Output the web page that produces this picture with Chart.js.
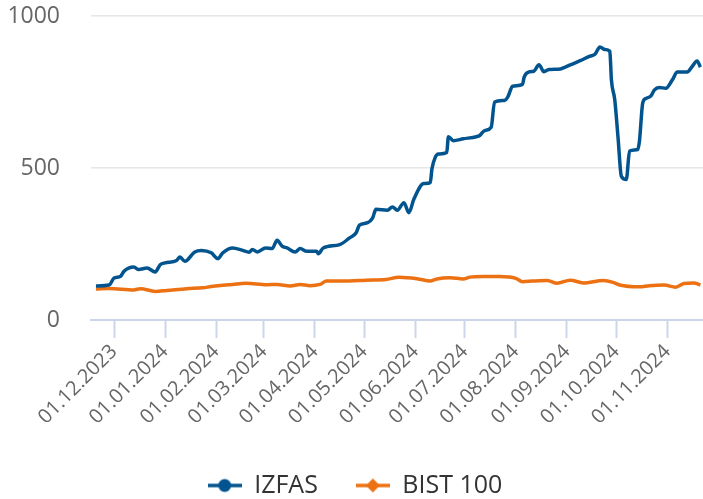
<!DOCTYPE html>
<html>
<head>
<meta charset="utf-8">
<script src="https://cdn.jsdelivr.net/npm/chart.js@4.4.0/dist/chart.umd.min.js"></script>
<style>
body { margin: 0; background: #fff; }
</style>
</head>
<body>
<canvas id="chart" width="703" height="499"></canvas>
<script>
var izfasDates = ['2023-11-20','2023-11-28','2023-12-01','2023-12-05','2023-12-07','2023-12-13','2023-12-16','2023-12-21',
    '2023-12-26','2023-12-29','2024-01-01','2024-01-08','2024-01-10','2024-01-13','2024-01-19','2024-01-23','2024-01-29',
    '2024-02-02','2024-02-05','2024-02-11','2024-02-17','2024-02-21','2024-02-23','2024-02-26','2024-03-02','2024-03-06',
    '2024-03-09','2024-03-12','2024-03-15','2024-03-20','2024-03-23','2024-03-27','2024-04-02','2024-04-03','2024-04-06',
    '2024-04-16','2024-04-22','2024-04-26','2024-04-28','2024-05-03','2024-05-06','2024-05-08','2024-05-15','2024-05-18',
    '2024-05-21','2024-05-25','2024-05-28','2024-05-31','2024-06-06','2024-06-10','2024-06-11','2024-06-13','2024-06-15',
    '2024-06-20','2024-06-21','2024-06-24','2024-06-30','2024-07-08','2024-07-10','2024-07-13','2024-07-17','2024-07-19',
    '2024-07-25','2024-07-27','2024-07-30','2024-08-05','2024-08-06','2024-08-09','2024-08-12','2024-08-15','2024-08-18',
    '2024-08-21','2024-08-28','2024-08-31','2024-09-03','2024-09-09','2024-09-15','2024-09-18','2024-09-21','2024-09-24',
    '2024-09-27','2024-09-28','2024-09-30','2024-10-02','2024-10-04','2024-10-07','2024-10-09','2024-10-14','2024-10-15',
    '2024-10-17','2024-10-19','2024-10-22','2024-10-24','2024-10-27','2024-10-31','2024-11-04','2024-11-07','2024-11-13',
    '2024-11-16','2024-11-19','2024-11-21'];
var izfasValues = [112,115,138,144,160,174,166,171,
    158,182,188,196,207,193,224,229,221,
    202,221,237,229,223,232,224,237,235,
    262,243,237,224,235,226,226,218,237,
    248,270,287,312,320,336,364,361,372,
    361,386,353,397,449,452,497,535,546,
    551,603,590,596,603,607,623,634,717,
    722,733,769,775,799,816,819,840,817,
    824,826,832,839,853,868,874,898,890,
    884,788,725,600,473,462,556,561,589,
    714,729,737,756,765,762,790,816,816,
    834,852,832];

var bistDates = ['2023-11-20','2023-11-28','2023-12-13','2023-12-17','2023-12-26','2024-01-02','2024-01-14','2024-01-24',
    '2024-01-29','2024-02-05','2024-02-11','2024-02-19','2024-03-03','2024-03-09','2024-03-17','2024-03-23','2024-03-29',
    '2024-04-04','2024-04-08','2024-04-22','2024-05-02','2024-05-14','2024-05-22','2024-06-02','2024-06-10','2024-06-14',
    '2024-06-22','2024-06-30','2024-07-04','2024-07-12','2024-07-22','2024-08-01','2024-08-05','2024-08-11','2024-08-20',
    '2024-08-26','2024-09-03','2024-09-11','2024-09-23','2024-09-29','2024-10-03','2024-10-15','2024-10-21','2024-10-30',
    '2024-11-06','2024-11-11','2024-11-17','2024-11-21'];
var bistValues = [102,104,99,103,94,97,103,106,
    110,114,117,121,116,117,112,117,113,
    117,128,128,131,133,141,136,128,135,
    139,135,141,143,143,137,126,128,130,
    121,131,122,130,124,115,109,113,115,
    108,120,122,115];

var tickDates = ['2023-12-01','2024-01-01','2024-02-01','2024-03-01','2024-04-01','2024-05-01',
    '2024-06-01','2024-07-01','2024-08-01','2024-09-01','2024-10-01','2024-11-01'];
var tickLabels = ['01.12.2023','01.01.2024','01.02.2024','01.03.2024','01.04.2024','01.05.2024',
    '01.06.2024','01.07.2024','01.08.2024','01.09.2024','01.10.2024','01.11.2024'];
var yTicks = [0, 500, 1000];

var blue = '#02548f';
var orange = '#ec7112';

function toTime(s) {
    var p = s.split('-');
    return Date.UTC(+p[0], +p[1] - 1, +p[2]);
}

function toPoints(dates, values) {
    var pts = [];
    for (var i = 0; i < dates.length; i++) {
        pts.push({x: toTime(dates[i]), y: values[i]});
    }
    return pts;
}

// legend icons: line with a marker in the middle
function makeIcon(color, shape) {
    var c = document.createElement('canvas');
    c.width = 34; c.height = 18;
    var g = c.getContext('2d');
    g.strokeStyle = color;
    g.lineWidth = 3.5;
    g.beginPath(); g.moveTo(0, 9); g.lineTo(34, 9); g.stroke();
    g.fillStyle = color;
    g.beginPath();
    if (shape == 'circle') {
        g.arc(17, 9, 6.5, 0, Math.PI * 2);
    } else {
        g.moveTo(17, 2); g.lineTo(24, 9); g.lineTo(17, 16); g.lineTo(10, 9); g.closePath();
    }
    g.fill();
    return c;
}
var icons = [makeIcon(blue, 'circle'), makeIcon(orange, 'diamond')];

var tickValues = tickDates.map(toTime);

var ctx = document.getElementById('chart').getContext('2d');
var myChart = new Chart(ctx, {
    type: 'line',
    data: {
        datasets: [{
            label: 'IZFAS',
            data: toPoints(izfasDates, izfasValues),
            borderColor: blue,
            backgroundColor: blue,
            borderWidth: 3.5,
            pointRadius: 0,
            cubicInterpolationMode: 'monotone'
        }, {
            label: 'BIST 100',
            data: toPoints(bistDates, bistValues),
            borderColor: orange,
            backgroundColor: orange,
            borderWidth: 3.5,
            pointRadius: 0,
            cubicInterpolationMode: 'monotone'
        }]
    },
    options: {
        responsive: false,
        animation: false,
        events: [],
        layout: { padding: { top: 16, left: 7, right: 0, bottom: -9 } },
        scales: {
            x: {
                type: 'linear',
                min: Date.UTC(2023, 10, 17),
                max: Date.UTC(2024, 10, 22, 14),
                afterBuildTicks: function(scale) {
                    scale.ticks = tickValues.map(function(v) { return {value: v}; });
                },
                afterFit: function(scale) {
                    scale.height = 115;
                    scale.paddingLeft = 0;
                    scale.paddingRight = 0;
                },
                grid: {
                    drawOnChartArea: false,
                    tickLength: 18,
                    tickColor: '#ccd6eb',
                    tickWidth: 2
                },
                border: { color: '#ccd6eb', width: 2 },
                ticks: {
                    autoSkip: false,
                    maxRotation: 45,
                    minRotation: 45,
                    padding: 2,
                    color: '#666666',
                    font: { family: 'Open Sans', size: 20 },
                    callback: function(value) {
                        var i = tickValues.indexOf(value);
                        return i >= 0 ? tickLabels[i] : '';
                    }
                }
            },
            y: {
                min: 0,
                max: 1000,
                afterBuildTicks: function(scale) {
                    scale.ticks = yTicks.map(function(v) { return {value: v}; });
                },
                afterFit: function(scale) {
                    scale.width = 84;
                    scale.paddingTop = 0;
                    scale.paddingBottom = 0;
                },
                grid: {
                    drawTicks: false,
                    lineWidth: 1.5,
                    color: function(c) { return c.tick && c.tick.value === 0 ? 'rgba(0,0,0,0)' : '#e6e6e6'; }
                },
                border: { display: false },
                ticks: {
                    padding: 31,
                    color: '#666666',
                    font: { family: 'Open Sans', size: 23 },
                    callback: function(value) { return String(value); }
                }
            }
        },
        plugins: {
            tooltip: { enabled: false },
            legend: {
                position: 'bottom',
                labels: {
                    usePointStyle: true,
                    pointStyleWidth: 34,
                    padding: 38,
                    color: '#333333',
                    font: { family: 'Open Sans', size: 25 },
                    generateLabels: function(chart) {
                        var items = Chart.defaults.plugins.legend.labels.generateLabels(chart);
                        items.forEach(function(it, i) { it.pointStyle = icons[i]; });
                        return items;
                    }
                }
            }
        }
    }
});
</script>
</body>
</html>
